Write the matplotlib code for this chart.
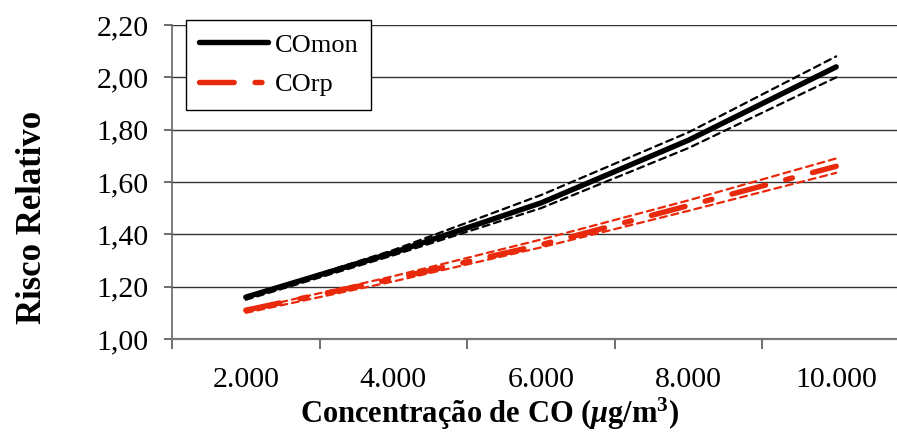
import matplotlib.pyplot as plt
import numpy as np
from matplotlib.ticker import FixedLocator, NullFormatter

plt.rcParams['font.family'] = ['Liberation Serif', 'DejaVu Serif']
plt.rcParams['mathtext.fontset'] = 'custom'
plt.rcParams['mathtext.rm'] = 'Liberation Serif:bold'
plt.rcParams['mathtext.it'] = 'Liberation Serif:italic:bold'
plt.rcParams['lines.scale_dashes'] = False

# concentracao de CO (ug/m3)
categorias = ["2.000", "4.000", "6.000", "8.000", "10.000"]

# risco relativo - monoxido (monitor)
co_mon = [1.16, 1.33, 1.52, 1.76, 2.04]
co_mon_sup = [1.16, 1.34, 1.55, 1.79, 2.08]
co_mon_inf = [1.15, 1.32, 1.50, 1.73, 2.00]

# risco relativo - regressao ponderada
co_rp = [1.11, 1.23, 1.36, 1.51, 1.66]
co_rp_sup = [1.11, 1.24, 1.38, 1.53, 1.69]
co_rp_inf = [1.10, 1.22, 1.35, 1.49, 1.635]

vermelho = '#e8290b'

fig = plt.figure(figsize=(8.97, 4.32), dpi=100)
ax = fig.add_axes([172/897, 93/432, 738/897, 314/432])

x = np.arange(len(categorias))

# intervalos de confianca
ax.plot(x, co_mon_sup, color='k', lw=1.6, dashes=(5, 3.5), dash_capstyle='round', zorder=3)
ax.plot(x, co_mon_inf, color='k', lw=1.6, dashes=(5, 3.5), dash_capstyle='round', zorder=3)
ax.plot(x, co_rp_sup, color=vermelho, lw=1.6, dashes=(5, 3.5), dash_capstyle='round', zorder=3)
ax.plot(x, co_rp_inf, color=vermelho, lw=1.6, dashes=(5, 3.5), dash_capstyle='round', zorder=3)

ax.plot(x, co_mon, color='k', lw=3.9, solid_capstyle='round', solid_joinstyle='round',
        label='COmon', zorder=4)
ax.plot(x, co_rp, color=vermelho, lw=3.9, dashes=(25, 15, 5, 15), dash_capstyle='round',
        label='COrp', zorder=4)

ax.set_xlim(-0.5, len(categorias) - 0.5)
ax.set_ylim(1.0, 2.2)
ax.set_yticks(np.arange(1.0, 2.21, 0.2))
ax.set_yticklabels(['{:.2f}'.format(v).replace('.', ',') for v in np.arange(1.0, 2.21, 0.2)])

ax.set_xticks(x)
ax.set_xticklabels(categorias)
ax.xaxis.set_minor_locator(FixedLocator(np.arange(-0.5, len(categorias), 1.0)))
ax.xaxis.set_minor_formatter(NullFormatter())
ax.tick_params(axis='x', which='major', length=0, labelsize=21.5, pad=20)
ax.tick_params(axis='x', which='minor', length=7, width=1.2, color='#555555')
ax.tick_params(axis='y', length=6, width=1.2, color='#555555', labelsize=21.5, pad=11)

ax.grid(axis='y', color='#333333', lw=1)
ax.set_axisbelow(True)

for s in ['top', 'right']:
    ax.spines[s].set_visible(False)
ax.spines['left'].set_color('#666666')
ax.spines['bottom'].set_color('#777777')
ax.spines['left'].set_linewidth(1.2)
ax.spines['bottom'].set_linewidth(1.6)

ax.set_ylabel('Risco Relativo', fontsize=25, fontweight='bold')
ax.yaxis.set_label_coords((49 - 172) / 738, (339 - 217) / 314)
ax.set_xlabel(r'Concentração de CO ($\mu$g/m$^3$)', fontsize=22, fontweight='bold')
ax.xaxis.set_label_coords((490 - 172) / 738, (339 - 396) / 314)

leg = ax.legend(loc='upper left', bbox_to_anchor=(186/897, 1 - 20/432),
                bbox_transform=fig.transFigure, borderaxespad=0, fontsize=19,
                handlelength=2.6, handletextpad=0.25, borderpad=0.5,
                labelspacing=0.62, fancybox=False, framealpha=1)
leg.get_frame().set_edgecolor('black')
leg.get_frame().set_linewidth(1.0)

fig.savefig('out.png', dpi=100)
